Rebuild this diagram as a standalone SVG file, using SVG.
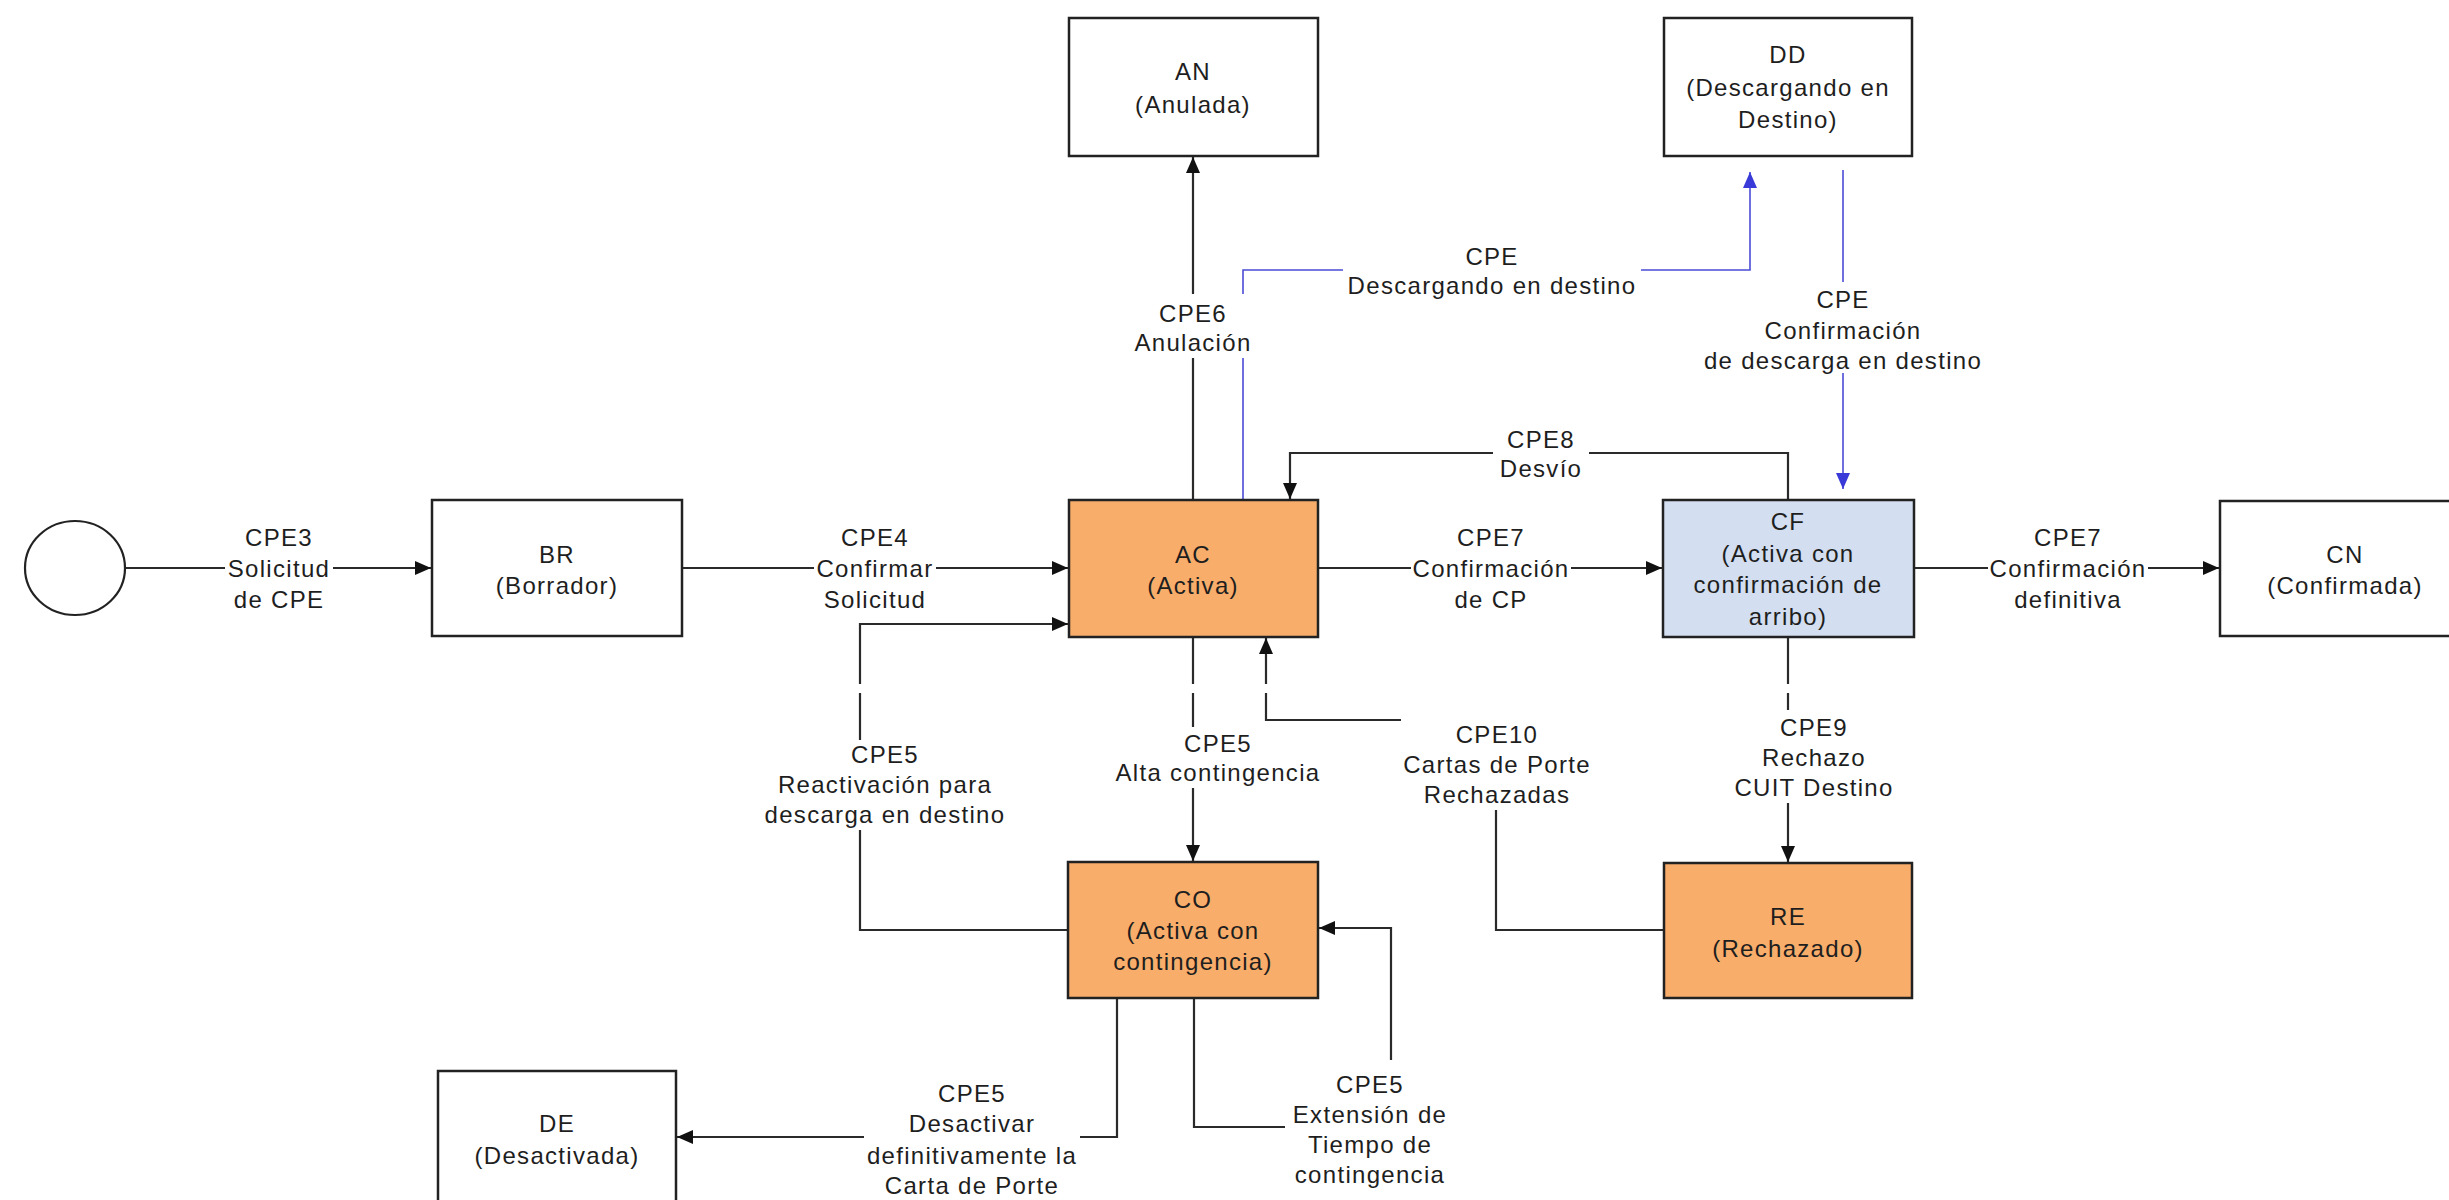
<svg xmlns="http://www.w3.org/2000/svg" width="2449" height="1200" viewBox="0 0 2449 1200">
<style>
text{font-family:"Liberation Sans",Arial,sans-serif;font-size:24px;letter-spacing:1.3px;fill:#1e1e1e;text-anchor:middle}
.box{fill:#fff;stroke:#222;stroke-width:2.5}
.org{fill:#F8AD6B;stroke:#222;stroke-width:2.5}
.blu{fill:#D3DEF0;stroke:#222;stroke-width:2.5}
.ln{fill:none;stroke:#2a2a2a;stroke-width:2.2}
.bl{fill:none;stroke:#4B4BD6;stroke-width:1.6}
.lb{fill:#fff}
</style>
<defs>
<marker id="ah" viewBox="0 0 16 14" refX="16" refY="7" markerWidth="16" markerHeight="14" markerUnits="userSpaceOnUse" orient="auto"><path d="M0,0 L16,7 L0,14 Z" fill="#111"/></marker>
<marker id="ahb" viewBox="0 0 16 14" refX="16" refY="7" markerWidth="16" markerHeight="14" markerUnits="userSpaceOnUse" orient="auto"><path d="M0,0 L16,7 L0,14 Z" fill="#3A3AD8"/></marker>
</defs>
<rect width="2449" height="1200" fill="#fff"/>

<g id="connectors">
<path class="ln" d="M125,568 H431" marker-end="url(#ah)"/>
<path class="ln" d="M682,568 H1068" marker-end="url(#ah)"/>
<path class="ln" d="M1193,500 V157" marker-end="url(#ah)"/>
<path class="ln" d="M1318,568 H1662" marker-end="url(#ah)"/>
<path class="ln" d="M1914,568 H2219" marker-end="url(#ah)"/>
<path class="ln" d="M1788,500 V453 H1290 V499" marker-end="url(#ah)"/>
<path class="ln" d="M1193,637 V861" marker-end="url(#ah)"/>
<path class="ln" d="M1068,930 H860 V624 H1068" marker-end="url(#ah)"/>
<path class="ln" d="M1788,637 V862" marker-end="url(#ah)"/>
<path class="ln" d="M1664,930 H1496 V720 H1266 V638" marker-end="url(#ah)"/>
<path class="ln" d="M1117,998 V1137 H677" marker-end="url(#ah)"/>
<path class="ln" d="M1194,998 V1127 H1391 V928 H1319" marker-end="url(#ah)"/>
<path class="bl" d="M1243,500 V270 H1750 V172" marker-end="url(#ahb)"/>
<path class="bl" d="M1843,170 V489" marker-end="url(#ahb)"/>
</g>

<g id="labels">
<g id="lbl-cpe3"><rect class="lb" x="225" y="522" width="108" height="92"/><text x="279" y="546">CPE3</text><text x="279" y="577">Solicitud</text><text x="279" y="608">de CPE</text></g>
<g id="lbl-cpe4"><rect class="lb" x="814" y="522" width="122" height="92"/><text x="875" y="546">CPE4</text><text x="875" y="577">Confirmar</text><text x="875" y="608">Solicitud</text></g>
<g id="lbl-cpe6"><rect class="lb" x="1132" y="294" width="122" height="64"/><text x="1193" y="322">CPE6</text><text x="1193" y="351">Anulación</text></g>
<g id="lbl-cpe-desc"><rect class="lb" x="1343" y="244" width="298" height="56"/><text x="1492" y="265">CPE</text><text x="1492" y="294">Descargando en destino</text></g>
<g id="lbl-cpe-conf"><rect class="lb" x="1700" y="282" width="286" height="91"/><text x="1843" y="308">CPE</text><text x="1843" y="339">Confirmación</text><text x="1843" y="369">de descarga en destino</text></g>
<g id="lbl-cpe8"><rect class="lb" x="1493" y="428" width="96" height="56"/><text x="1541" y="448">CPE8</text><text x="1541" y="477">Desvío</text></g>
<g id="lbl-cpe7a"><rect class="lb" x="1411" y="522" width="160" height="92"/><text x="1491" y="546">CPE7</text><text x="1491" y="577">Confirmación</text><text x="1491" y="608">de CP</text></g>
<g id="lbl-cpe7b"><rect class="lb" x="1988" y="522" width="160" height="92"/><text x="2068" y="546">CPE7</text><text x="2068" y="577">Confirmación</text><text x="2068" y="608">definitiva</text></g>
<g id="lbl-cpe5-react"><rect class="lb" x="761" y="740" width="248" height="90"/><text x="885" y="763">CPE5</text><text x="885" y="793">Reactivación para</text><text x="885" y="823">descarga en destino</text></g>
<g id="lbl-cpe5-alta"><rect class="lb" x="1115" y="727" width="206" height="61"/><text x="1218" y="752">CPE5</text><text x="1218" y="781">Alta contingencia</text></g>
<g id="lbl-cpe10"><rect class="lb" x="1401" y="716" width="192" height="94"/><text x="1497" y="743">CPE10</text><text x="1497" y="773">Cartas de Porte</text><text x="1497" y="803">Rechazadas</text></g>
<g id="lbl-cpe9"><rect class="lb" x="1732" y="710" width="164" height="93"/><text x="1814" y="736">CPE9</text><text x="1814" y="766">Rechazo</text><text x="1814" y="796">CUIT Destino</text></g>
<g id="lbl-cpe5-desact"><rect class="lb" x="864" y="1080" width="216" height="120"/><text x="972" y="1102">CPE5</text><text x="972" y="1132">Desactivar</text><text x="972" y="1164">definitivamente la</text><text x="972" y="1194">Carta de Porte</text></g>
<g id="lbl-cpe5-ext"><rect class="lb" x="1285" y="1060" width="170" height="132"/><text x="1370" y="1093">CPE5</text><text x="1370" y="1123">Extensión de</text><text x="1370" y="1153">Tiempo de</text><text x="1370" y="1183">contingencia</text></g>
</g>

<g id="start"><ellipse cx="75" cy="568" rx="50" ry="47" fill="#fff" stroke="#222" stroke-width="2.2"/></g>
<g id="BR"><rect class="box" x="432" y="500" width="250" height="136"/><text x="557" y="563">BR</text><text x="557" y="594">(Borrador)</text></g>
<g id="AN"><rect class="box" x="1069" y="18" width="249" height="138"/><text x="1193" y="80">AN</text><text x="1193" y="113">(Anulada)</text></g>
<g id="DD"><rect class="box" x="1664" y="18" width="248" height="138"/><text x="1788" y="63">DD</text><text x="1788" y="96">(Descargando en</text><text x="1788" y="128">Destino)</text></g>
<g id="AC"><rect class="org" x="1069" y="500" width="249" height="137"/><text x="1193" y="563">AC</text><text x="1193" y="594">(Activa)</text></g>
<g id="CF"><rect class="blu" x="1663" y="500" width="251" height="137"/><text x="1788" y="530">CF</text><text x="1788" y="562">(Activa con</text><text x="1788" y="593">confirmación de</text><text x="1788" y="625">arribo)</text></g>
<g id="CN"><rect class="box" x="2220" y="501" width="250" height="135"/><text x="2345" y="563">CN</text><text x="2345" y="594">(Confirmada)</text></g>
<g id="CO"><rect class="org" x="1068" y="862" width="250" height="136"/><text x="1193" y="908">CO</text><text x="1193" y="939">(Activa con</text><text x="1193" y="970">contingencia)</text></g>
<g id="RE"><rect class="org" x="1664" y="863" width="248" height="135"/><text x="1788" y="925">RE</text><text x="1788" y="957">(Rechazado)</text></g>
<g id="DE"><rect class="box" x="438" y="1071" width="238" height="140"/><text x="557" y="1132">DE</text><text x="557" y="1164">(Desactivada)</text></g>

<rect x="0" y="684" width="2449" height="9" fill="#fff"/>
</svg>
